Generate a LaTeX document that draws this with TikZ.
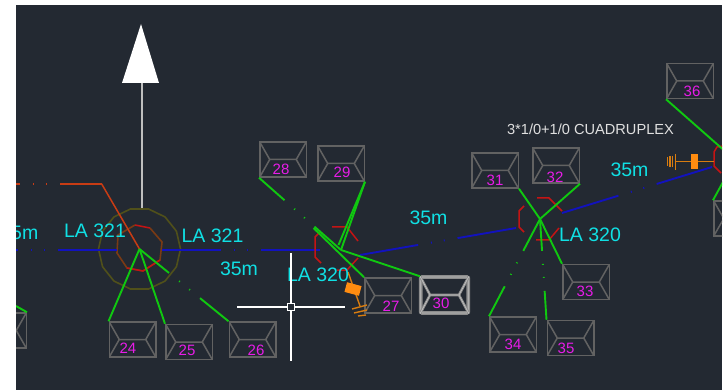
\documentclass[tikz,border=0pt]{standalone}
\usepackage{fontspec}
\setmainfont{Liberation Sans}
\usetikzlibrary{shapes.geometric,calc}
\definecolor{bgdark}{HTML}{232932}
\definecolor{boxgray}{HTML}{626262}
\definecolor{wiregreen}{HTML}{10C810}
\definecolor{wireblue}{HTML}{1212BE}
\definecolor{wirered}{HTML}{C83C14}
\definecolor{polered}{HTML}{C41414}
\definecolor{ringolive}{HTML}{50501A}
\definecolor{innerbrown}{HTML}{7A3A14}
\definecolor{numpink}{HTML}{E81CE8}
\definecolor{labcyan}{HTML}{10E0E4}
\definecolor{lineorange}{HTML}{D87C10}
\definecolor{boxorange}{HTML}{FF8C10}
\definecolor{BoxGlow}{HTML}{8C8C8C}
\definecolor{BoxCore}{HTML}{C4C4C4}
\tikzset{
  x=1pt,y=-1pt,
  tr/.style={rectangle,draw=boxgray,line width=1.5pt,inner sep=0pt,minimum width=46.5pt,minimum height=35pt,
    path picture={
      \draw[boxgray,line width=1.5pt]
        (path picture bounding box.north west) -- ([xshift=10pt]path picture bounding box.west) -- (path picture bounding box.south west)
        (path picture bounding box.north east) -- ([xshift=-10pt]path picture bounding box.east) -- (path picture bounding box.south east)
        ([xshift=10pt]path picture bounding box.west) -- ([xshift=-10pt]path picture bounding box.east);
    }},
  glowbox/.style={rectangle,draw=BoxGlow,line width=1.4pt,double=BoxCore,double distance=0.8pt,rounded corners=1.5pt,inner sep=0pt,minimum width=47.5pt,minimum height=36pt},
  glowline/.style={draw=BoxGlow,line width=1pt,double=BoxCore,double distance=0.6pt},
  num/.style={text=numpink,font=\fontsize{15}{15}\selectfont,inner sep=0pt},
  lab/.style={text=labcyan,font=\fontsize{19.5}{20}\selectfont,inner sep=0pt},
  green wire/.style={draw=wiregreen,line width=1.9pt},
  blue wire/.style={draw=wireblue,line width=1.9pt},
  red wire/.style={draw=wirered,line width=1.5pt},
  pole mark/.style={draw=polered,line width=1.5pt},
  earth/.style={draw=lineorange,line width=1.4pt},
  phantomdash/.style={dash pattern=on #1pt off 13pt on 1pt off 12pt on 1pt off 13pt on 300pt},
  cursor/.style={draw=white,line width=1.3pt},
}
\newcommand{\tbox}[5]{%
  \node[tr] (b#1) at (#2,#3) {};
  \node[num] (n#1) at (#4,#5) {#1};
}
\begin{document}
\begin{tikzpicture}
\useasboundingbox (0,0) rectangle (723,390);
\fill[white] (0,0) rectangle (723,390);
\fill[bgdark] (16,5) rectangle (722,390);
\begin{scope}
\clip (16,5) rectangle (722,390);

% poles and free ends
\coordinate (p1) at (139.5,249);
\coordinate (p2) at (341,250);
\coordinate (p3) at (540,219);
\coordinate (p4) at (735,160);
\coordinate (p2b) at (338.5,245);
\coordinate (midb) at (313.5,228);
\coordinate (northtop) at (141,24);
\coordinate (northL) at (122,83);
\coordinate (northR) at (159,83);
\coordinate (northfoot) at (141.7,83);

% ring and inner polygon of pole 1
\node[regular polygon,regular polygon sides=14,draw=ringolive,line width=1.6pt,minimum size=82pt,inner sep=0pt] (ring) at (139.5,249) {};
\draw[innerbrown,line width=1.6pt] (135,225) -- (118,235) -- (117,253) -- (127,268) -- (143,271) -- (160,260) -- (162,242) -- (150,228);
\draw[polered,line width=1.5pt] (135,225) -- (150,228) (127,268) -- (143,271) -- (160,260);

% north arrow
\draw[draw=lightgray,line width=1.6pt] (northfoot) -- (ring.north -| northfoot);
\fill[white] (northtop) -- (northL) -- (northR) -- cycle;

% transformer boxes
\tbox{24}{132.5}{339.5}{128}{348}
\tbox{25}{189}{342}{187}{350}
\tbox{26}{252.5}{339.5}{256}{350}
\tbox{27}{388}{295.5}{391}{306}
\tbox{28}{283}{159.5}{281}{169}
\tbox{29}{341}{163.5}{342}{172}
\tbox{31}{495}{170.5}{495}{180}
\tbox{32}{556}{165.5}{555}{177}
\tbox{33}{586}{282}{585}{291}
\tbox{34}{513}{334.5}{513}{344}
\tbox{35}{570.5}{338}{566}{348}
\tbox{36}{690}{81}{692}{91}
\node[tr] (bleft) at (3,330.5) {};
\node[tr] (bright) at (737,218.5) {};

% highlighted box 30
\node[glowbox] (b30) at (444.5,295) {};
\draw[glowline] (b30.north west) -- ([xshift=10pt]b30.west) -- (b30.south west)
  (b30.north east) -- ([xshift=-10pt]b30.east) -- (b30.south east)
  ([xshift=10pt]b30.west) -- ([xshift=-10pt]b30.east);
\node[num] (n30) at (441,303) {30};

% red wire
\coordinate (rk) at (101.7,184);
\coordinate (rleft) at (0,184);
\draw[red wire] (p1) -- (rk);
\draw[red wire,phantomdash=42] (rk) -- (rleft);

% blue wires
\coordinate (bl1a) at (117,250);
\coordinate (bl1b) at (0,250);
\coordinate (bl2a) at (162,250);
\coordinate (bl2b) at (320,250);
\coordinate (bl3a) at (360,255);
\coordinate (bl3b) at (516,228);
\coordinate (bl4a) at (562,213);
\coordinate (bl4b) at (712,167);
\draw[blue wire,phantomdash=59] (bl1a) -- (bl1b);
\draw[blue wire,phantomdash=59] (bl2a) -- (bl2b);
\draw[blue wire,phantomdash=59] (bl3a) -- (bl3b);
\draw[blue wire,phantomdash=59] (bl4a) -- (bl4b);

% pole marks
\draw[pole mark] (332,227) -- (347,227) -- (358,241)
  (320,232) -- (315,237) -- (315,257) -- (321,263)
  (358,258) -- (347,270) -- (337,270);
\draw[pole mark] (537,198) -- (549,198) -- (562,211)
  (524,206) -- (519,211) -- (519,227) -- (524,232)
  (536,240) -- (549,240) -- (559,228);
\draw[pole mark] (723,146) -- (717,147) -- (714,152) -- (714,166) -- (721,173);

% green wires
\draw[green wire] (p1) -- (b24.north west);
\draw[green wire] (p1) -- (b25.north west);
\draw[green wire,phantomdash=38] (p1) -- (b26.north west);
\draw[green wire,phantomdash=34] (b28.south west) -- (p2);
\draw[green wire] (midb) -- (b27.north west);
\draw[green wire] (p2) -- (b29.south east);
\draw[green wire] (p2b) -- (b29.south east);
\draw[green wire] (p2) -- (b30.north west);
\draw[green wire] (p3) -- (b31.south east);
\draw[green wire] (p3) -- (b32.south east);
\draw[green wire] (p3) -- (b33.north west);
\draw[green wire,phantomdash=36] (p3) -- (b34.north west);
\draw[green wire,phantomdash=32] (p3) -- (b35.north west);
\draw[green wire] (p4) -- (b36.south west);
\draw[green wire] (p4) -- (bright.north west);
\coordinate (lstub) at (16,306);
\draw[green wire] (lstub) -- (bleft.north east);

% earth symbols
\coordinate (e1top) at (348,272);
\coordinate (e1bot) at (360,306);
\draw[earth] (e1top) -- (e1bot);
\node[rectangle,rotate=-15,fill=boxorange,inner sep=0pt,minimum width=15pt,minimum height=10pt] (fuse1) at (353,289) {};
\draw[earth] (352,309) -- (367,305) (354,313) -- (367,310) (358,316) -- (366,315);
\coordinate (e2a) at (675,161.5);
\coordinate (e2b) at (714,161.5);
\draw[earth] (e2a) -- (e2b);
\node[rectangle,fill=boxorange,inner sep=0pt,minimum width=7.5pt,minimum height=15pt] (fuse2) at (694.5,161.5) {};
\draw[earth] (675.3,154) -- (675.3,170) (672.3,156) -- (672.3,167) (670,156) -- (670,167) (667.3,157) -- (667.3,166);

% labels
\node[lab,anchor=east] (t1) at (38.5,233) {35m};
\node[lab] (t2) at (95,231) {LA 321};
\node[lab] (t3) at (212.5,236) {LA 321};
\node[lab] (t4) at (239,269) {35m};
\node[lab] (t5) at (318,275) {LA 320};
\node[lab] (t6) at (428.5,218) {35m};
\node[lab] (t7) at (629.5,170) {35m};
\node[lab] (t8) at (590,235) {LA 320};
\node[text=white!88!black,font=\fontsize{14.6}{15}\selectfont,inner sep=0pt] (t9) at (590.5,129) {3*1/0+1/0 CUADRUPLEX};

% cursor
\node[rectangle,draw=white,line width=1.3pt,fill=bgdark,inner sep=0pt,minimum size=7.5pt] (cur) at (291,307) {};
\coordinate (curL) at (237,307);
\coordinate (curR) at (345,307);
\coordinate (curT) at (291,253);
\coordinate (curB) at (291,361);
\draw[cursor] (curL) -- (cur.west) (cur.east) -- (curR) (curT) -- (cur.north) (cur.south) -- (curB);
\end{scope}
\end{tikzpicture}
\end{document}
